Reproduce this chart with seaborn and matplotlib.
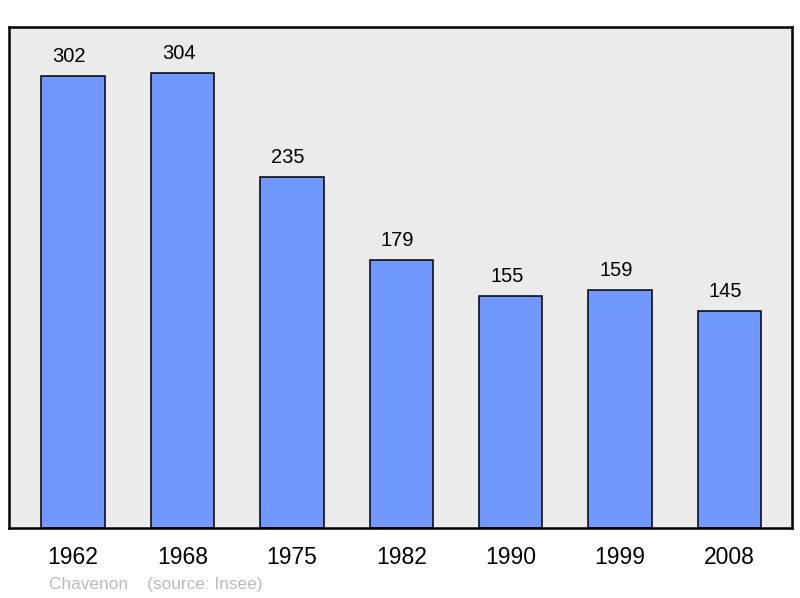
import matplotlib
matplotlib.use("Agg")
import matplotlib.pyplot as plt
import seaborn as sns
import pandas as pd

years = ["1962", "1968", "1975", "1982", "1990", "1999", "2008"]
population = [302, 304, 235, 179, 155, 159, 145]

sns.set_theme(style="white")
plt.rcParams['font.family'] = ['Liberation Sans', 'DejaVu Sans']

df = pd.DataFrame({"year": years, "pop": population})

fig = plt.figure(figsize=(8, 5.98), dpi=100)
ax = fig.add_axes([9/800, 70/598, 783/800, 501/598])
ax.set_facecolor("#ebebeb")

sns.barplot(data=df, x="year", y="pop", color="#7098ff", saturation=1,
            width=0.58, edgecolor="black", linewidth=1.1, ax=ax)

for i, v in enumerate(population):
    ax.annotate(str(v), (i, v), xytext=(-2.8, 10), textcoords="offset points",
                ha="center", va="baseline", fontsize=14.5, color="black")

ax.set_xlim(-0.585, 6.57)
ax.set_ylim(0, 335)
ax.set_yticks([])
ax.set_xlabel("")
ax.set_ylabel("")
ax.tick_params(axis="x", length=0, labelsize=16.5, pad=13, colors="black")
for s in ax.spines.values():
    s.set_visible(True)
    s.set_color("black")
    s.set_linewidth(1.8)

fig.text(49/800, 1 - 585/598, "Chavenon    (source: Insee)", fontsize=12.4,
         color="#bbbbbb", ha="left", va="center")

fig.savefig("out.png", dpi=100)
